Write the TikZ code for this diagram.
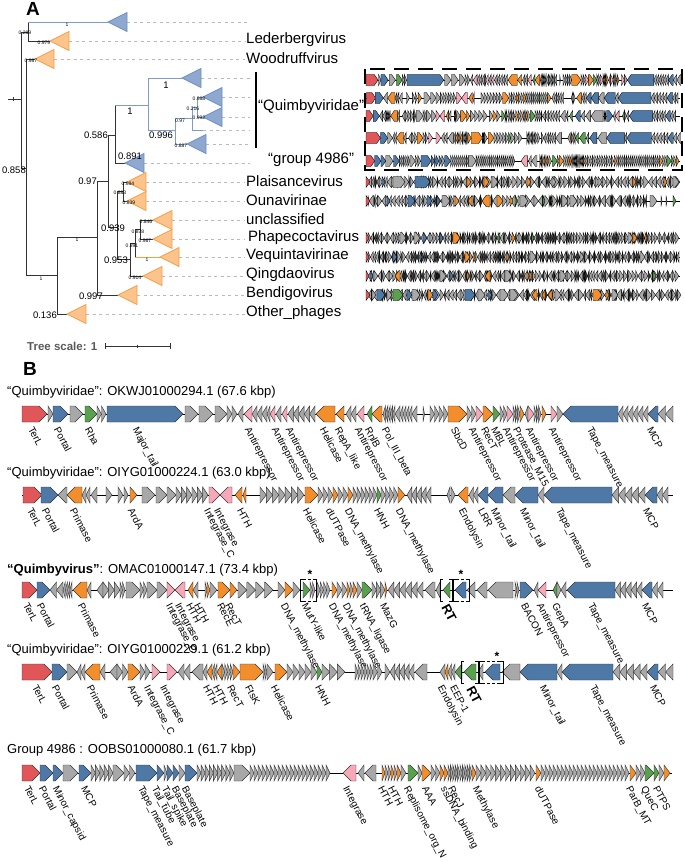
\documentclass[tikz,border=0pt]{standalone}
\usepackage{fontspec}
\setmainfont{Liberation Sans}
\definecolor{terl}{HTML}{E15759}
\definecolor{blu}{HTML}{4E79A7}
\definecolor{gry}{HTML}{A8A8A8}
\definecolor{org}{HTML}{F28E2B}
\definecolor{grn}{HTML}{59A14F}
\definecolor{pnk}{HTML}{F7A8B8}
\definecolor{triblue}{HTML}{8EA8CF}
\definecolor{triblueline}{HTML}{6E8FC3}
\definecolor{triorg}{HTML}{FCC38C}
\definecolor{triorgline}{HTML}{F4A043}
\definecolor{treeblue}{HTML}{7C9CCC}
\definecolor{treeline}{HTML}{333333}
\tikzset{
  gene/.style={draw=black!80,line width=0.45pt,line join=miter},
  backbone/.style={draw=black,line width=0.6pt},
  tline/.style={draw=treeline,line width=0.9pt},
  tlineb/.style={draw=treeblue,line width=0.9pt},
  guide/.style={draw=gray!55,line width=0.6pt,dash pattern=on 3pt off 3.5pt},
  bluetri/.style={fill=triblue,draw=triblueline,line width=0.8pt},
  orgtri/.style={fill=triorg,draw=triorgline,line width=0.8pt},
  suppbig/.style={font=\fontsize{9.5}{10}\selectfont,inner sep=0pt},
  supptiny/.style={font=\fontsize{5}{5}\selectfont,inner sep=0pt},
  tiplab/.style={anchor=west,inner sep=0pt,font=\fontsize{15}{16}\selectfont},
  glab/.style={anchor=north west,rotate=-62,inner sep=0pt,font=\fontsize{10}{11}\selectfont},
  rtlab/.style={anchor=north west,rotate=-62,inner sep=0pt,font=\fontsize{13}{14}\selectfont\bfseries},
  rowtitle/.style={anchor=west,inner sep=0pt,font=\fontsize{13}{15}\selectfont},
  boxdash/.style={draw=black,line width=1.3pt,dash pattern=on 15pt off 9pt},
  brk/.style={draw=black,line width=0.9pt},
  panel/.style={inner sep=0pt,font=\fontsize{19}{20}\selectfont\bfseries}
}
\def\genehh{8}
\def\genehead{8}
% one gene arrow from #1 to #2 (direction = start to end)
\newcommand{\gene}[3]{%
  \pgfmathsetmacro\gnL{abs(#2-#1)}%
  \pgfmathsetmacro\gnS{(#2>#1)?1:-1}%
  \pgfmathsetmacro\gnB{#2-\gnS*min(\gnL,\genehead)}%
  \filldraw[gene,fill=#3] (#1,-\genehh) -- (\gnB,-\genehh) -- (#2,0) -- (\gnB,\genehh) -- (#1,\genehh) -- cycle;}
% a run of equal grey genes
\newcommand{\generun}[3]{%
  \pgfmathsetmacro\grw{(#2-#1)/#3}%
  \foreach \gi in {1,...,#3}{%
    \pgfmathsetmacro\gra{#1+(\gi-1)*\grw}%
    \pgfmathsetmacro\grb{#1+\gi*\grw}%
    \gene{\gra}{\grb}{gry}}}
% dense random row (panel A): narrow genes dark, wider ones grey
\newcommand{\rndrow}[3]{%
  \pgfmathsetseed{#1}%
  \def\rx{368}%
  \loop
    \pgfmathsetmacro\rw{1+#2*rnd}%
    \pgfmathsetmacro\rnx{\rx+\rw}%
    \pgfmathsetmacro\rd{rnd}%
    \ifdim\rw pt<2.2pt\def\rcol{black!75}\else\def\rcol{gry}\fi
    \ifdim\rd pt<0.5pt\relax\gene{\rx}{\rnx}{\rcol}\else\gene{\rnx}{\rx}{\rcol}\fi
    \let\rx\rnx
  \ifdim\rx pt<#3pt\repeat}
\newcounter{glc}
\newcommand{\genelab}[2]{\stepcounter{glc}\node[glab] (gl\arabic{glc}) at (#1,12) {#2};}
\newcommand{\clade}[3]{\filldraw[#3] (#1,#2) -- ++(19,-9.5) -- ++(0,19) -- cycle;}
\newcommand{\rtbrk}[2]{%
  \draw[brk] (#1+3,-11) -- (#1,-11) -- (#1,11) -- (#1+3,11);
  \draw[brk] (#2-3,-11) -- (#2,-11) -- (#2,11) -- (#2-3,11);}
\newcommand{\starbox}[4]{%
  \rtbrk{#1}{#2}
  \draw[brk,dash pattern=on 3pt off 2pt] (#1+3,-11) -- (#2-3,-11) (#1+3,11) -- (#2-3,11);
  \node[inner sep=0pt,font=\fontsize{12}{12}\selectfont\bfseries] (#4) at (#3,-16) {*};}

% gene rows, B coordinates
\newcommand{\rowOKWJ}{%
  \draw[backbone] (22,0) -- (673,0);
  \gene{22}{47}{terl}\gene{48}{53}{gry}\gene{53}{68}{blu}\gene{70}{83}{gry}\gene{85}{97}{grn}\generun{97}{106}{2}
  \gene{107}{183}{blu}\gene{185}{198}{gry}\gene{199}{213}{gry}\gene{215}{227}{gry}\generun{227}{237}{2}
  \gene{243}{238}{gry}\gene{252}{244}{pnk}\generun{267}{252}{3}\gene{270}{267}{gry}\gene{275}{270}{pnk}\gene{281}{276}{gry}\gene{287}{282}{pnk}\generun{315}{288}{5}
  \gene{335}{316}{org}\gene{344}{336}{org}\generun{356}{346}{2}\gene{364}{357}{pnk}\gene{372}{367}{grn}\gene{382}{372}{org}
  \generun{395}{383}{5}\gene{400}{395}{gry}\generun{412}{400}{4}\gene{417}{412}{gry}\gene{423}{424.5}{gry}
  \generun{430}{448}{4}\gene{448}{467}{org}\generun{467}{476}{2}\gene{476}{483}{pnk}\gene{483}{493}{org}\gene{493}{500}{grn}\generun{500}{507}{2}\gene{507}{513}{pnk}
  \generun{513}{520}{3}\gene{520}{524}{org}\gene{528}{525}{gry}\gene{528}{534}{pnk}\generun{534}{541}{3}\gene{542}{546}{org}\gene{551}{557}{pnk}\gene{557}{563}{gry}
  \gene{618}{563}{blu}\generun{648}{618}{6}\gene{658}{648}{blu}\generun{673}{658}{2}}
\newcommand{\rowOIYGa}{%
  \draw[backbone] (22,0) -- (673,0);
  \gene{23}{42}{terl}\gene{41}{58}{blu}\gene{67}{58}{gry}\gene{82}{67}{org}\generun{90}{82}{2}\gene{97}{91}{gry}\gene{106}{112}{gry}\gene{118}{123}{gry}\gene{124}{128}{gry}\gene{130}{137}{org}
  \gene{142}{155}{gry}\gene{156}{167}{gry}\gene{167}{176}{gry}\generun{176}{208}{6}\gene{209}{220}{pnk}\gene{232}{220}{pnk}
  \gene{242}{235}{org}\gene{246}{243}{org}\generun{260}{304}{7}\gene{305}{318}{org}\generun{318}{333}{3}\gene{333}{338}{org}\generun{338}{348}{2}\gene{348}{353}{org}
  \generun{353}{377}{6}\gene{377}{381}{grn}\generun{381}{398}{4}\gene{398}{405}{org}
  \generun{431}{407}{5}\gene{450}{447}{gry}\gene{451}{455}{gry}\gene{468}{458}{org}\generun{478}{469}{2}\gene{488}{478}{blu}\gene{503}{488}{blu}\gene{515}{503}{gry}
  \gene{538}{515}{blu}\gene{544}{538}{gry}\gene{612}{544}{blu}\generun{645}{612}{5}\gene{657}{645}{blu}\generun{668}{657}{2}}
\newcommand{\rowOMAC}{%
  \draw[backbone] (22,0) -- (673,0);
  \gene{22}{37}{terl}\gene{37}{50}{blu}\generun{63}{50}{2}\generun{72}{63}{4}\gene{87}{73}{org}\gene{91}{87}{gry}\gene{103}{97}{gry}\generun{103}{120}{3}\generun{120}{125}{2}
  \gene{126}{140}{gry}\generun{140}{147}{2}\gene{147}{157}{gry}\gene{157}{167}{gry}\gene{167}{175}{pnk}\gene{185}{175}{pnk}
  \gene{193}{188}{org}\gene{198}{193}{gry}\gene{205}{207}{gry}\gene{207}{210}{org}\gene{210}{217}{gry}\gene{218}{230}{org}\gene{230}{237}{org}\generun{238}{273}{4}
  \gene{278}{285}{gry}\gene{285}{293}{org}\gene{293}{300}{gry}\gene{303}{310}{grn}\generun{310}{315}{2}\generun{317}{330}{4}\gene{332}{337}{org}\generun{337}{347}{2}
  \gene{347}{350}{org}\gene{350}{353}{gry}\gene{353}{357}{org}\gene{357}{362}{gry}\gene{362}{372}{grn}\generun{372}{385}{3}\gene{385}{387}{org}
  \generun{423}{388}{6}\gene{435}{425}{gry}\gene{440}{436}{gry}\gene{450}{443}{grn}\gene{466}{455}{blu}\gene{475}{467}{gry}\gene{487}{477}{gry}\gene{513}{488}{gry}
  \generun{515}{519}{2}\gene{520}{533}{blu}\gene{538}{534}{gry}\gene{546}{538}{pnk}\gene{557}{553}{grn}\gene{557}{561}{gry}\gene{566}{561}{gry}
  \gene{615}{567}{blu}\generun{642}{615}{5}\gene{652}{642}{blu}\generun{663}{652}{2}}
\newcommand{\rowOIYGb}{%
  \draw[backbone] (22,0) -- (673,0);
  \gene{22}{52}{terl}\gene{52}{67}{blu}\gene{67}{77}{gry}\generun{85}{77}{2}\gene{100}{85}{org}\gene{105}{100}{gry}\gene{117}{110}{gry}\generun{117}{128}{2}\gene{128}{140}{org}
  \generun{140}{150}{2}\gene{152}{160}{pnk}\gene{167}{177}{pnk}
  \generun{190}{178}{2}\gene{203}{192}{gry}\gene{207}{203}{gry}\gene{212}{207}{org}\generun{217}{212}{2}\gene{222}{217}{org}\generun{222}{233}{4}\gene{233}{240}{org}\gene{240}{263}{org}
  \generun{263}{267}{2}\gene{267}{273}{gry}\gene{275}{287}{org}\generun{287}{317}{5}\gene{317}{322}{grn}\generun{322}{345}{3}
  \generun{355}{373}{6}\generun{373}{382}{2}\gene{385}{390}{gry}\generun{414}{390}{5}\gene{427}{415}{gry}\gene{445}{440}{gry}\gene{448}{445}{org}\generun{455}{448}{2}
  \gene{462}{455}{grn}\gene{476}{464}{grn}\gene{483}{478}{gry}\gene{500}{485}{blu}\gene{520}{502}{gry}\gene{557}{520}{blu}\gene{562}{557}{gry}
  \gene{613}{562}{blu}\generun{647}{613}{5}\gene{658}{647}{blu}\generun{673}{658}{2}}
\newcommand{\rowOOBS}{%
  \draw[backbone] (22,0) -- (672,0);
  \gene{22}{40}{terl}\gene{40}{53}{blu}\gene{53}{63}{blu}\gene{63}{78}{gry}\gene{79}{91}{blu}\generun{91}{113}{5}\gene{113}{124}{gry}\generun{124}{135}{2}
  \gene{136}{157}{blu}\gene{157}{164}{blu}\gene{164}{167}{gry}\gene{167}{173}{blu}\gene{173}{179}{blu}\gene{179}{185}{gry}\gene{185}{197}{blu}
  \generun{197}{234}{9}\gene{234}{250}{gry}\generun{250}{330}{20}
  \gene{356}{343}{pnk}\gene{364}{358}{gry}\gene{376}{365}{gry}
  \gene{382}{385}{org}\generun{385}{391}{2}\gene{391}{394}{org}\gene{394}{397}{gry}\gene{397}{401}{org}\gene{401}{406}{gry}
  \gene{408}{418}{grn}\gene{418}{422}{gry}\gene{422}{431}{org}\generun{431}{440}{2}\gene{440}{444}{org}\gene{444}{448}{org}
  \generun{448}{472}{10}\gene{472}{476}{org}\generun{476}{535}{12}\gene{536}{541}{org}\generun{541}{629}{22}
  \gene{630}{636}{org}\generun{636}{645}{2}\gene{645}{654}{grn}\gene{654}{659}{grn}\gene{659}{664}{gry}\gene{664}{670}{org}}

\begin{document}
\begin{tikzpicture}[x=1pt,y=-1pt]
\useasboundingbox (0,0) rectangle (685,862);
\node[panel] (pA) at (33,9) {A};
% tree
\draw[tline] (8,99) -- (21,99) (13,97) -- (13,101);
\draw[tline] (21,32) -- (21,168) (21,32) -- (28,32) (28,22) -- (28,41) (28,41) -- (50,41);
\draw[tlineb] (28,22) -- (108,22);
\draw[tline] (21,168) -- (26,168) (26,59) -- (26,275) (26,59) -- (35,59);
\draw[tline] (26,275) -- (57,275) (57,237) -- (57,314) (57,314) -- (67,314);
\draw[tline] (57,237) -- (97,237) (97,181) -- (97,295) (97,295) -- (118,295);
\draw[tline] (97,181) -- (108,181) (108,135) -- (108,227) (108,135) -- (115,135) (115,105) -- (115,163) (115,163) -- (125,163);
\draw[tlineb] (115,105) -- (148,105) (148,78) -- (148,130) (148,78) -- (182,78) (148,130) -- (175,130)
  (175,118) -- (175,144) (175,144) -- (187,144) (175,118) -- (192,118) (192,107) -- (192,130) (192,130) -- (203,130)
  (192,107) -- (197,107) (197,97) -- (197,117) (197,97) -- (203,97) (197,117) -- (203,117);
\draw[tline] (108,227) -- (117,227) (117,191) -- (117,259) (117,191) -- (123,191) (123,182) -- (123,201) (123,182) -- (127,182) (123,201) -- (127,201);
\draw[tline] (117,259) -- (130,259) (130,243) -- (130,276) (130,276) -- (143,276) (130,243) -- (135,243) (135,229) -- (135,257)
  (135,229) -- (140,229) (140,220) -- (140,239) (140,220) -- (153,220) (140,239) -- (153,239);
\draw[tline,draw=triorgline] (135,257) -- (160,257);
% collapsed clades and guides
\foreach \cx/\cy/\ce in {127/22/250,201/78/250,222/97/250,222/117/250,203/130/250,206/144/250,144/163/250}
  {\draw[guide] (\cx,\cy) -- (\ce,\cy);}
\foreach \cx/\cy in {69/41,54/59,146/182,146/201,172/220,172/239,179/257,162/276,137/295,86/314}
  {\draw[guide] (\cx,\cy) -- (245,\cy);}
\foreach \cx/\cy in {108/22,182/78,203/97,203/117,187/144,125/163} {\clade{\cx}{\cy}{bluetri}}
\foreach \cx/\cy in {50/41,35/59,127/182,127/201,153/220,153/239,160/257,143/276,118/295,67/314} {\clade{\cx}{\cy}{orgtri}}
% support values
\node[suppbig,anchor=east] (s0858) at (26,170) {0.858};
\node[suppbig,anchor=east] (s0586) at (108,135) {0.586};
\node[suppbig,anchor=east] (s097) at (97,181) {0.97};
\node[suppbig,anchor=east] (s0997) at (103,296) {0.997};
\node[suppbig,anchor=east] (s0136) at (57,315) {0.136};
\node[suppbig] (s0939) at (113,228) {0.939};
\node[suppbig,anchor=east] (s0953) at (128,260) {0.953};
\node[suppbig] (s0996) at (161,135) {0.996};
\node[suppbig] (s0891) at (130,156) {0.891};
\node[suppbig] (s1a) at (130,111) {1};
\node[suppbig] (s1b) at (166,85) {1};
\foreach \sx/\sy/\sv [count=\si] in {25/33/0.289,67/25/1,44/43/0.979,31/61/0.987,41/279/1,77/240/1,128/184/0.984,120/193/0.883,
  129/203/0.839,146/222/0.846,138/232/0.878,145/241/0.987,132/246/0.891,147/260/1,135/278/0.914,199/99/0.988,193/109/0.216,
  199/118/0.992,180/121/0.97,181/146/0.887}
  {\node[supptiny] (st\si) at (\sx,\sy) {\sv};}
% tip labels
\node[tiplab] (tLed) at (246,40) {Lederbergvirus};
\node[tiplab] (tWoo) at (246,58) {Woodruffvirus};
\draw[line width=1.3pt] (256,72) -- (256,148);
\node[tiplab] (tQui) at (258,107) {“Quimbyviridae”};
\node[tiplab] (tGrp) at (268,160) {“group 4986”};
\node[tiplab] (tPla) at (246,181) {Plaisancevirus};
\node[tiplab] (tOun) at (246,200) {Ounavirinae};
\node[tiplab] (tUnc) at (246,219) {unclassified};
\node[tiplab] (tPha) at (248,238) {Phapecoctavirus};
\node[tiplab] (tVeq) at (246,256) {Vequintavirinae};
\node[tiplab] (tQin) at (246,275) {Qingdaovirus};
\node[tiplab] (tBen) at (246,294) {Bendigovirus};
\node[tiplab] (tOth) at (246,313) {Other\_phages};
% tree scale
\node[anchor=west,inner sep=0pt,text=black!65,font=\fontsize{11.5}{12}\selectfont\bfseries] (tscale) at (27,346) {Tree scale: 1};
\draw[black!80,line width=0.9pt] (105,346) -- (170,346) (105,343) -- (105,349) (170,343) -- (170,349) (137.5,344.5) -- (137.5,347.5);
% panel A gene maps
\draw[boxdash] (365,69) rectangle (682,170);
\begin{scope}[gene/.append style={line width=0.35pt,draw=black},backbone/.append style={line width=0.4pt}]
\foreach \ry/\rw in {80/\rowOKWJ,98/\rowOIYGa,116/\rowOMAC,138/\rowOIYGb,161/\rowOOBS}{
  \begin{scope}[shift={(355.37,\ry)},xscale=0.483,yscale=0.69] \rw \end{scope}}
\def\genehead{4}
\begin{scope}[shift={(0,182)},yscale=0.69]
  \draw[backbone] (366,0) -- (680,0); \rndrow{11}{4}{678}
  \gene{366}{370}{terl}\gene{382}{385}{blu}\gene{393}{405}{gry}\gene{415}{430}{blu}\gene{467}{471}{org}\gene{484}{489}{org}\gene{492}{498}{gry}
  \gene{527}{531}{org}\gene{552}{556}{gry}\gene{598}{602}{gry}\gene{633}{636}{org}\gene{664}{667}{org}\gene{673}{679}{gry}
\end{scope}
\begin{scope}[shift={(0,201)},yscale=0.69]
  \draw[backbone] (366,0) -- (680,0); \rndrow{23}{4}{646}
  \gene{366}{370}{terl}\gene{387}{390}{blu}\gene{408}{415}{blu}\gene{427}{432}{blu}\gene{437}{440}{blu}\gene{442}{450}{gry}\gene{455}{459}{org}
  \gene{472}{468}{org}\gene{490}{482}{org}\gene{497}{503}{org}\gene{510}{513}{org}\gene{515}{517}{grn}\gene{520}{528}{gry}\gene{543}{545}{grn}
  \gene{562}{568}{gry}\gene{570}{577}{gry}\gene{650}{657}{gry}\gene{661}{662}{gry}\gene{666}{667}{gry}\gene{673}{676}{grn}
\end{scope}
\begin{scope}[shift={(0,238)},yscale=0.69]
  \draw[backbone] (366,0) -- (680,0); \rndrow{37}{2.4}{678}
  \gene{366}{369}{terl}\gene{400}{406}{gry}\gene{414}{420}{gry}\gene{423}{427}{blu}\gene{440}{443}{blu}\gene{453}{460}{org}\gene{498}{500}{grn}
  \gene{512}{515}{org}\gene{532}{534}{grn}\gene{628}{633}{gry}\gene{633}{637}{org}\gene{645}{647}{org}
\end{scope}
\begin{scope}[shift={(0,257)},yscale=0.69]
  \draw[backbone] (366,0) -- (680,0); \rndrow{41}{2.4}{678}
  \gene{366}{369}{terl}\gene{393}{397}{blu}\gene{420}{422}{blu}\gene{465}{470}{org}\gene{473}{475}{org}\gene{507}{509}{org}\gene{530}{536}{gry}
  \gene{580}{584}{gry}\gene{640}{645}{gry}
\end{scope}
\begin{scope}[shift={(0,276)},yscale=0.69]
  \draw[backbone] (366,0) -- (680,0); \rndrow{53}{3}{678}
  \gene{366}{369}{terl}\gene{370}{373}{blu}\gene{400}{395}{org}\gene{440}{446}{gry}\gene{450}{453}{blu}\gene{467}{469}{org}\gene{490}{485}{org}
  \gene{505}{512}{gry}\gene{527}{529}{org}\gene{530}{532}{org}\gene{560}{566}{gry}\gene{653}{656}{grn}
\end{scope}
\begin{scope}[shift={(0,295)},yscale=0.69]
  \draw[backbone] (366,0) -- (680,0); \rndrow{67}{4}{678}
  \gene{366}{370}{terl}\gene{372}{376}{gry}\gene{377}{385}{blu}\gene{387}{392}{gry}\gene{393}{403}{grn}\gene{407}{412}{blu}\gene{412}{420}{gry}
  \gene{428}{433}{org}\gene{433}{438}{blu}\gene{465}{475}{blu}\gene{478}{485}{gry}\gene{488}{492}{blu}\gene{500}{508}{gry}\gene{510}{518}{gry}
  \gene{537}{532}{org}\gene{545}{542}{org}\gene{552}{548}{org}\gene{555}{561}{gry}\gene{593}{602}{org}\gene{606}{609}{org}\gene{612}{618}{gry}
\end{scope}
\end{scope}
% panel B
\node[panel] (pB) at (30,369) {B};
\node[rowtitle] (tOKWJ) at (7,392) {“Quimbyviridae”: OKWJ01000294.1 (67.6 kbp)};
\begin{scope}[shift={(0,414)}]
  \rowOKWJ
  \foreach \lx/\lt in {34/TerL,60/Portal,91/Rha,139/Major\_tail,251/Antirepressor,278/Antirepressor,292/Antirepressor,326/Helicase,
    341/RepA\_like,361/Antirepressor,371/RnlB,388/Pol\_III\_beta,457/SbcD,475/Antirepressor,487/RecT,497/MBL,509/Antirepressor,
    519/Protease\_M15,532/Antirepressor,555/Antirepressor,593/Tape\_measure,653/MCP} {\genelab{\lx}{\lt}}
\end{scope}
\node[rowtitle] (tOIYGa) at (7,473) {“Quimbyviridae”: OIYG01000224.1 (63.0 kbp)};
\begin{scope}[shift={(0,495)}]
  \rowOIYGa
  \foreach \lx/\lt in {33/TerL,48/Portal,76/Primase,134/ArdA,210/Integrase\_C,220/Integrase,243/HTH,309/Helicase,332/dUTPase,
    351/DNA\_methylase,380/HNH,402/DNA\_methylase,465/Endolysin,484/LRR,497/Minor\_tail,526/Minor\_tail,562/Tape\_measure,649/MCP}
    {\genelab{\lx}{\lt}}
\end{scope}
\node[rowtitle] (tOMAC) at (7,570) {\textbf{“Quimbyvirus”}: OMAC01000147.1 (73.4 kbp)};
\begin{scope}[shift={(0,590)}]
  \rowOMAC
  \rtbrk{440}{452}
  \starbox{300}{316}{310}{starA}
  \starbox{453}{469}{461}{starB}
  \foreach \lx/\lt in {29/TerL,43/Portal,84/Primase,172/Integrase\_C,181/Integrase,192/HTH,200/HTH,223/RecE,231/RecT,
    287/DNA\_methylase,308/MutY-like,335/DNA\_methylase,349/DNA\_methylase,366/tRNA\_ligase,386/MazG,527/BACON,543/Antirepressor,
    558/GepA,594/Tape\_measure,648/MCP} {\genelab{\lx}{\lt}}
  \node[rtlab] (rtA) at (449,13) {RT};
\end{scope}
\node[rowtitle] (tOIYGb) at (7,650) {“Quimbyviridae”: OIYG01000229.1 (61.2 kbp)};
\begin{scope}[shift={(0,672)}]
  \rowOIYGb
  \rtbrk{461}{478}
  \starbox{479}{503}{497}{starC}
  \foreach \lx/\lt in {38/TerL,58/Portal,93/Primase,134/ArdA,150/Integrase\_C,166/Integrase,209/HTH,219/HTH,233/RecT,251/FtsK,
    277/Helicase,321/HNH,444/Endolysin,456/EEP-1,546/Minor\_tail,596/Tape\_measure,656/MCP} {\genelab{\lx}{\lt}}
  \node[rtlab] (rtB) at (474,13) {RT};
\end{scope}
\node[rowtitle] (tOOBS) at (7,750) {Group 4986 : OOBS01000080.1 (61.7 kbp)};
\begin{scope}[shift={(0,773)}]
  \rowOOBS
  \foreach \lx/\lt in {30/TerL,45/Portal,59/Minor\_capsid,87/MCP,144/Tape\_measure,158/Tail\_tube,168/Tail\_spike,178/Baseplate,
    188/Baseplate,349/Integrase,384/HTH,394/HTH,410/Replisome\_org\_N,428/AAA,447/ssDNA\_binding,454/RecJ,479/Methylase,
    541/dUTPase,632/ParB\_MT,647/QueC,659/PTPS} {\genelab{\lx}{\lt}}
\end{scope}
\end{tikzpicture}
\end{document}
